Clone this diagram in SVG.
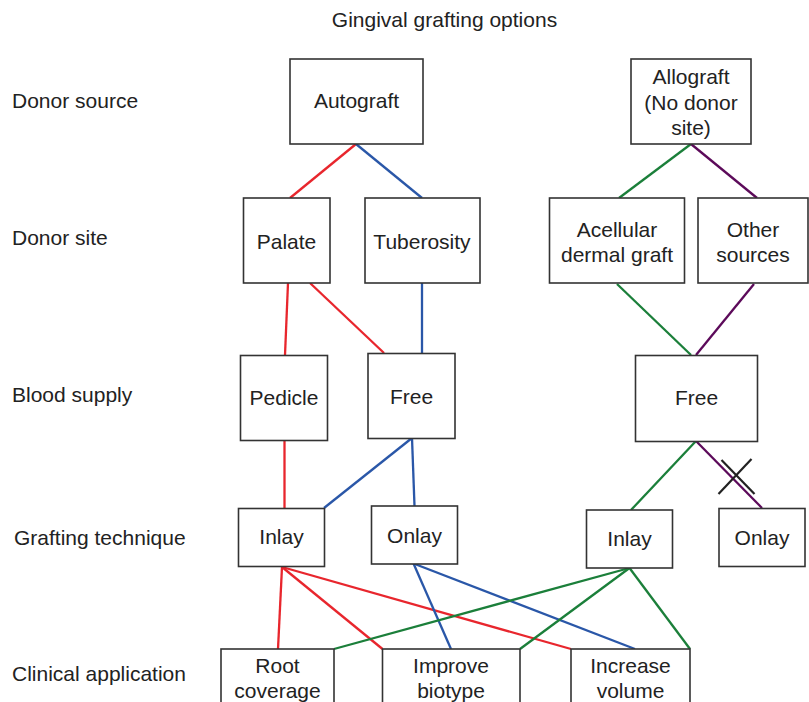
<svg xmlns="http://www.w3.org/2000/svg" width="809" height="702" viewBox="0 0 809 702">
<style>
  .box { fill: #ffffff; stroke: #333333; stroke-width: 1.6; }
  text { font-family: "Liberation Sans", Arial, sans-serif; font-size: 21px; fill: #222222; }
  .c { text-anchor: middle; }
  .r { stroke: #e8262d; stroke-width: 2.3; fill: none; }
  .b { stroke: #2a57a8; stroke-width: 2.3; fill: none; }
  .g { stroke: #1b7f3a; stroke-width: 2.3; fill: none; }
  .p { stroke: #5c0a5a; stroke-width: 2.3; fill: none; }
  .x { stroke: #222222; stroke-width: 2.2; fill: none; }
</style>
<rect width="809" height="702" fill="#ffffff"/>
<text class="c" x="444.5" y="27">Gingival grafting options</text>

<g id="row-labels">
  <text x="12" y="108">Donor source</text>
  <text x="12" y="245">Donor site</text>
  <text x="12" y="402">Blood supply</text>
  <text x="14" y="545">Grafting technique</text>
  <text x="12" y="681">Clinical application</text>
</g>

<g id="connectors">
  <line class="r" x1="356" y1="144" x2="290" y2="198"/>
  <line class="b" x1="356" y1="144" x2="422" y2="198"/>
  <line class="g" x1="691" y1="144" x2="619" y2="198"/>
  <line class="p" x1="691" y1="144" x2="757" y2="198"/>
  <line class="r" x1="288" y1="283" x2="285" y2="355"/>
  <line class="r" x1="310" y1="283" x2="384" y2="353"/>
  <line class="b" x1="422" y1="283" x2="422" y2="353"/>
  <line class="g" x1="617" y1="284" x2="691" y2="355"/>
  <line class="p" x1="754" y1="284" x2="696" y2="355"/>
  <line class="r" x1="284.5" y1="440" x2="284.5" y2="508"/>
  <line class="b" x1="412" y1="438" x2="324" y2="508"/>
  <line class="b" x1="412" y1="438" x2="414.5" y2="506"/>
  <line class="g" x1="696" y1="441" x2="631" y2="510"/>
  <line class="p" x1="696" y1="441" x2="762" y2="508"/>
  <line class="x" x1="721.5" y1="460" x2="754.5" y2="494"/>
  <line class="x" x1="718.5" y1="494" x2="751.5" y2="459"/>
  <line class="r" x1="282" y1="567" x2="278" y2="649"/>
  <line class="r" x1="282" y1="567" x2="382.5" y2="649"/>
  <line class="r" x1="282" y1="567" x2="571" y2="649"/>
  <line class="b" x1="413.5" y1="563.5" x2="451" y2="649"/>
  <line class="b" x1="413.5" y1="563.5" x2="635" y2="649"/>
  <line class="g" x1="629.5" y1="568" x2="334" y2="649"/>
  <line class="g" x1="629.5" y1="568" x2="520" y2="649"/>
  <line class="g" x1="629.5" y1="568" x2="690" y2="649"/>
</g>

<g id="autograft">
  <rect class="box" x="290" y="59" width="133" height="85"/>
  <text class="c" x="356.5" y="108">Autograft</text>
</g>
<g id="allograft">
  <rect class="box" x="631" y="59" width="120" height="85"/>
  <text class="c" x="691" y="84">Allograft</text>
  <text class="c" x="691" y="110">(No donor</text>
  <text class="c" x="691" y="135">site)</text>
</g>
<g id="palate">
  <rect class="box" x="243.5" y="198" width="86.5" height="85"/>
  <text class="c" x="286.5" y="249">Palate</text>
</g>
<g id="tuberosity">
  <rect class="box" x="365" y="198" width="115" height="85"/>
  <text class="c" x="422" y="249">Tuberosity</text>
</g>
<g id="acellular">
  <rect class="box" x="549.5" y="198" width="135" height="85"/>
  <text class="c" x="617" y="237">Acellular</text>
  <text class="c" x="617" y="262">dermal graft</text>
</g>
<g id="other-sources">
  <rect class="box" x="698" y="198" width="110" height="85"/>
  <text class="c" x="753" y="237">Other</text>
  <text class="c" x="753" y="262">sources</text>
</g>
<g id="pedicle">
  <rect class="box" x="240.5" y="355.5" width="87" height="85"/>
  <text class="c" x="284" y="405">Pedicle</text>
</g>
<g id="free-left">
  <rect class="box" x="368" y="353.5" width="87" height="85"/>
  <text class="c" x="411.5" y="404">Free</text>
</g>
<g id="free-right">
  <rect class="box" x="635.5" y="355.5" width="122" height="86"/>
  <text class="c" x="696.5" y="404.5">Free</text>
</g>
<g id="inlay-left">
  <rect class="box" x="238.5" y="508.5" width="86" height="58"/>
  <text class="c" x="281.5" y="544">Inlay</text>
</g>
<g id="onlay-left">
  <rect class="box" x="371.5" y="506" width="86" height="58"/>
  <text class="c" x="414.5" y="543">Onlay</text>
</g>
<g id="inlay-right">
  <rect class="box" x="586.5" y="510" width="86" height="58"/>
  <text class="c" x="629.5" y="546">Inlay</text>
</g>
<g id="onlay-right">
  <rect class="box" x="719" y="508.5" width="86" height="58"/>
  <text class="c" x="762" y="545">Onlay</text>
</g>
<g id="root-coverage">
  <rect class="box" x="221" y="649" width="113" height="70"/>
  <text class="c" x="277.5" y="673">Root</text>
  <text class="c" x="277.5" y="698">coverage</text>
</g>
<g id="improve-biotype">
  <rect class="box" x="382.5" y="649" width="137.5" height="70"/>
  <text class="c" x="451" y="673">Improve</text>
  <text class="c" x="451" y="698">biotype</text>
</g>
<g id="increase-volume">
  <rect class="box" x="571" y="649" width="119" height="70"/>
  <text class="c" x="630.5" y="673">Increase</text>
  <text class="c" x="630.5" y="698">volume</text>
</g>
</svg>
